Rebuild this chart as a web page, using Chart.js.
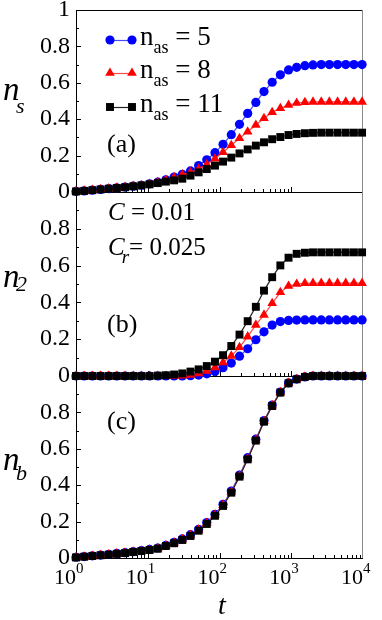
<!DOCTYPE html>
<html>
<head>
<meta charset="utf-8">
<script src="https://cdn.jsdelivr.net/npm/chart.js@4.4.0/dist/chart.umd.min.js"></script>
<style>
  html, body { margin: 0; padding: 0; background: #fff; }
  #wrap { position: relative; width: 382px; height: 620px; }
  #wrap canvas { position: absolute; left: 0; top: 0; }
</style>
</head>
<body>
<div id="wrap">
  <canvas id="panelA" width="382" height="620"></canvas>
  <canvas id="panelB" width="382" height="620"></canvas>
  <canvas id="panelC" width="382" height="620"></canvas>
</div>
<script>
// time points (log spaced), shared by all panels
const tValues = [1, 1.3, 1.69, 2.2, 2.86, 3.71, 4.83, 6.27, 8.16, 10.6, 13.8, 17.9, 23.3, 30.3, 39.4, 51.2, 66.5, 86.5,
  112, 146, 190, 247, 321, 417, 542, 705, 917, 1190, 1550, 2010, 2620, 3400, 4420, 5750, 7470, 9710]

const nasValues = ['5', '8', '11']

// panel (a): n_s
const nsA5 = [0.003, 0.006, 0.01, 0.014, 0.018, 0.023, 0.027, 0.032, 0.037, 0.045, 0.054, 0.067, 0.082, 0.097, 0.116, 0.145, 0.177, 0.216,
  0.262, 0.315, 0.372, 0.432, 0.492, 0.552, 0.603, 0.644, 0.671, 0.685, 0.694, 0.698, 0.7, 0.7, 0.7, 0.7, 0.7, 0.7]
const nsA8 = [0.003, 0.006, 0.01, 0.014, 0.018, 0.023, 0.027, 0.032, 0.037, 0.044, 0.053, 0.065, 0.08, 0.095, 0.108, 0.126, 0.152, 0.183,
  0.218, 0.257, 0.295, 0.331, 0.368, 0.405, 0.438, 0.46, 0.478, 0.489, 0.493, 0.495, 0.495, 0.495, 0.495, 0.495, 0.495, 0.495]
const nsA11 = [0.003, 0.006, 0.01, 0.014, 0.018, 0.022, 0.026, 0.031, 0.036, 0.042, 0.049, 0.057, 0.064, 0.073, 0.09, 0.108, 0.126, 0.145,
  0.167, 0.189, 0.212, 0.234, 0.255, 0.273, 0.29, 0.302, 0.313, 0.319, 0.323, 0.325, 0.326, 0.326, 0.326, 0.326, 0.326, 0.326]

// panel (b): n_2
const n2B5 = [0, 0, 0, 0, 0, 0, 0, 0, 0, 0, 0, 0, 0, 0, 0.002, 0.005, 0.012, 0.025,
  0.045, 0.07, 0.108, 0.148, 0.197, 0.24, 0.277, 0.296, 0.302, 0.304, 0.305, 0.305, 0.305, 0.305, 0.305, 0.305, 0.305, 0.305]
const n2B8 = [0, 0, 0, 0, 0, 0, 0, 0, 0, 0, 0, 0, 0, 0.002, 0.006, 0.014, 0.027, 0.046,
  0.073, 0.109, 0.156, 0.214, 0.278, 0.332, 0.395, 0.455, 0.489, 0.5, 0.504, 0.505, 0.505, 0.505, 0.505, 0.505, 0.505, 0.505]
const n2B11 = [0, 0, 0, 0, 0, 0, 0, 0, 0, 0, 0.002, 0.004, 0.008, 0.014, 0.024, 0.036, 0.054, 0.078,
  0.113, 0.163, 0.225, 0.298, 0.376, 0.464, 0.537, 0.601, 0.643, 0.664, 0.67, 0.672, 0.672, 0.672, 0.672, 0.672, 0.672, 0.672]

// panel (c): n_b
const nbC5 = [0.004, 0.008, 0.012, 0.016, 0.02, 0.025, 0.029, 0.035, 0.041, 0.047, 0.055, 0.07, 0.086, 0.105, 0.128, 0.158, 0.195, 0.24,
  0.295, 0.368, 0.456, 0.551, 0.653, 0.755, 0.84, 0.912, 0.962, 0.983, 0.995, 1, 1, 1, 1, 1, 1, 1]
const nbC8 = [0.003, 0.007, 0.011, 0.015, 0.019, 0.024, 0.028, 0.034, 0.039, 0.045, 0.053, 0.068, 0.083, 0.102, 0.124, 0.154, 0.191, 0.236,
  0.29, 0.363, 0.451, 0.546, 0.649, 0.752, 0.837, 0.91, 0.961, 0.982, 0.995, 1, 1, 1, 1, 1, 1, 1]
const nbC11 = [0.003, 0.007, 0.011, 0.015, 0.018, 0.023, 0.027, 0.033, 0.038, 0.044, 0.051, 0.066, 0.081, 0.099, 0.121, 0.15, 0.187, 0.232,
  0.286, 0.359, 0.447, 0.542, 0.645, 0.749, 0.835, 0.909, 0.96, 0.982, 0.995, 1, 1, 1, 1, 1, 1, 1]

const yTickLabelsA = ['0', '0.2', '0.4', '0.6', '0.8', '1']
const yTickLabelsBC = ['0', '0.2', '0.4', '0.6', '0.8']
const xTickExponents = ['0', '1', '2', '3', '4']

const markerColors = ['#0000ff', '#ff0000', '#000000']
const lineColors = ['#4a4aff', '#ff4a4a', '#222222']
const markerStyles = ['circle', 'triangle', 'rect']
const markerRadii = [4.6, 5.6, 5.6]
const FONT = '"Liberation Serif", "Times New Roman", serif'

Chart.defaults.font.family = FONT

function text(ctx, str, x, y, size, italic) {
  ctx.font = (italic ? 'italic ' : '') + size + 'px ' + FONT
  ctx.fillText(str, x, y)
  return x + ctx.measureText(str).width
}

function framePlugin(opt) {
  return {
    id: 'frame',
    beforeDatasetsDraw(chart) {
      const { ctx, chartArea: a, scales } = chart
      ctx.save()
      ctx.lineWidth = 1
      ctx.strokeStyle = '#000'
      ctx.beginPath()
      ctx.moveTo(a.left + 0.5, a.top)
      ctx.lineTo(a.left + 0.5, a.bottom + 0.5)
      ctx.lineTo(a.right, a.bottom + 0.5)
      if (opt.top) {
        ctx.moveTo(a.left, a.top + 0.5)
        ctx.lineTo(a.right, a.top + 0.5)
      }
      // y ticks, inside
      for (let i = 0; i <= 10; i++) {
        const y = Math.round(scales.y.getPixelForValue(i / 10)) + 0.5
        ctx.moveTo(a.left, y)
        ctx.lineTo(a.left + (i % 2 === 0 ? 5 : 3), y)
      }
      // x ticks at the bottom, pointing up
      for (let d = 0; d < 4; d++) {
        for (let m = 1; m <= 9; m++) {
          const t = m * Math.pow(10, d)
          if (t > opt.xTickMax) continue
          const x = Math.round(scales.x.getPixelForValue(t)) + 0.5
          ctx.moveTo(x, a.bottom)
          ctx.lineTo(x, a.bottom - (m === 1 ? 5 : 3))
        }
      }
      ctx.stroke()
      ctx.strokeStyle = '#8a8a8a'
      ctx.beginPath()
      ctx.moveTo(a.right - 0.5, a.top)
      ctx.lineTo(a.right - 0.5, a.bottom)
      ctx.stroke()
      ctx.restore()
    },
    afterDraw(chart) {
      const ctx = chart.ctx
      ctx.save()
      ctx.fillStyle = '#000'
      ctx.textBaseline = 'alphabetic'
      opt.annotate(ctx, chart)
      ctx.restore()
    }
  }
}

function makeChart(id, series, padTop, padBottom, tickLabels, opt) {
  return new Chart(document.getElementById(id), {
    type: 'line',
    data: {
      datasets: series.map((vals, i) => ({
        label: 'n_as = ' + nasValues[i],
        data: tValues.map((t, k) => ({ x: t, y: vals[k] })),
        borderColor: lineColors[i],
        borderWidth: 1.2,
        pointBackgroundColor: markerColors[i],
        pointBorderColor: markerColors[i],
        pointBorderWidth: 0,
        pointStyle: markerStyles[i],
        pointRadius: markerRadii[i],
        tension: 0,
        clip: false,
        order: 2 - i
      }))
    },
    options: {
      responsive: false,
      animation: false,
      events: [],
      layout: { padding: { top: padTop, bottom: padBottom, left: 0, right: 19 } },
      plugins: { legend: { display: false }, tooltip: { enabled: false } },
      scales: {
        x: { type: 'logarithmic', min: 1, max: 10000, display: false },
        y: {
          min: 0, max: 1,
          grid: { display: false, drawTicks: false },
          border: { display: false },
          ticks: {
            stepSize: 0.2, padding: 6, color: '#000',
            font: { family: FONT, size: 24 },
            callback: (v, i) => tickLabels[i] ?? ''
          },
          afterFit(s) { s.width = 76; s.paddingTop = 0; s.paddingBottom = 0 }
        }
      }
    },
    plugins: [framePlugin(opt)]
  })
}

function yTitle(ctx, sub, y, subY) {
  text(ctx, 'n', 3, y, 33, true)
  text(ctx, sub, 16, subY, 22, true)
}

makeChart('panelA', [nsA5, nsA8, nsA11], 10, 428, yTickLabelsA, {
  top: true, xTickMax: 1000,
  annotate(ctx, chart) {
    yTitle(ctx, 's', 100, 113)
    const rows = [40, 73, 107]
    chart.data.datasets.forEach((ds, i) => {
      const y = rows[i]
      ctx.strokeStyle = ds.borderColor
      ctx.lineWidth = 1.2
      ctx.beginPath()
      ctx.moveTo(110, y + 0.5)
      ctx.lineTo(132, y + 0.5)
      ctx.stroke()
      ctx.fillStyle = ds.pointBackgroundColor
      for (const x of [110, 132]) {
        Chart.helpers.drawPoint(ctx, { pointStyle: ds.pointStyle, radius: ds.pointRadius, rotation: 0, borderWidth: 0 }, x, y)
      }
      ctx.fillStyle = '#000'
      let x = text(ctx, 'n', 140, y + 5, 27, false)
      x = text(ctx, 'as', x, y + 13, 18, false)
      text(ctx, ' = ' + nasValues[i], x, y + 5, 27, false)
    })
    text(ctx, '(a)', 107, 152, 26, false)
  }
})

makeChart('panelB', [n2B5, n2B8, n2B11], 192, 244, yTickLabelsBC, {
  top: false, xTickMax: 1000,
  annotate(ctx) {
    yTitle(ctx, '2', 287, 291)
    let x = text(ctx, 'C', 108, 220, 25, true)
    text(ctx, ' = 0.01', x, 220, 25, false)
    x = text(ctx, 'C', 108, 255, 25, true)
    x = text(ctx, 'r', x - 3, 263, 19, true)
    text(ctx, '= 0.025', x, 255, 25, false)
    text(ctx, '(b)', 107, 332, 26, false)
  }
})

makeChart('panelC', [nbC5, nbC8, nbC11], 376, 62, yTickLabelsBC, {
  top: false, xTickMax: 10000,
  annotate(ctx, chart) {
    yTitle(ctx, 'b', 470, 480)
    text(ctx, '(c)', 107, 429, 26, false)
    const xs = chart.scales.x
    xTickExponents.forEach(e => {
      const x = xs.getPixelForValue(Math.pow(10, Number(e)))
      ctx.font = '22px ' + FONT
      const w = ctx.measureText('10').width
      text(ctx, '10', x - w, 584, 22, false)
      text(ctx, e, x, 573, 15, false)
    })
    text(ctx, 't', 218, 614, 28, true)
  }
})
</script>
</body>
</html>
